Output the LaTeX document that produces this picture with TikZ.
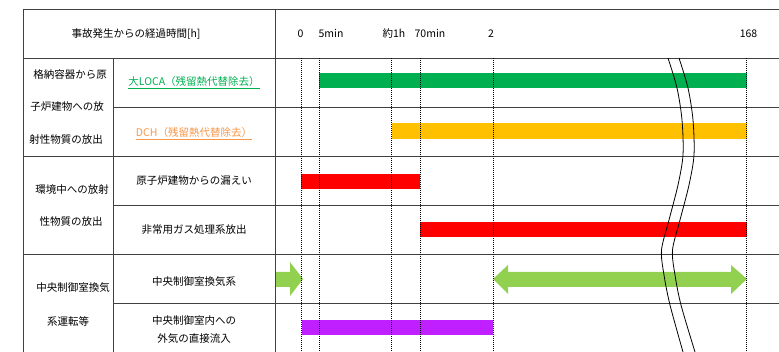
\documentclass[tikz,border=0pt]{standalone}
\usepackage{fontspec}
\setmainfont{Noto Sans CJK JP}
\definecolor{txtgreen}{HTML}{00B050}
\definecolor{txtorange}{HTML}{F79646}
\definecolor{bargreen}{HTML}{00B050}
\definecolor{barorange}{HTML}{FFC000}
\definecolor{barred}{HTML}{FF0000}
\definecolor{arrgreen}{HTML}{92D050}
\definecolor{barpurple}{HTML}{C020FF}
\begin{document}
\begin{tikzpicture}[x=1pt,y=-1pt,
  font=\fontsize{10.5}{12}\selectfont,
  tline/.style={draw=black!75, line width=0.8pt},
  dline/.style={draw=black, line width=0.6pt, dash pattern=on 1pt off 1pt},
  wline/.style={draw=black, line width=0.8pt},
  uline/.style={line width=0.5pt},
  lbl/.style={inner sep=0pt, anchor=center, text=black}]
\useasboundingbox (0,0) rectangle (779,352);

% bars
\fill[bargreen] (319,73) rectangle (747,88);
\fill[barorange] (392,123) rectangle (747,139);
\fill[barred] (301,174) rectangle (420,189);
\fill[barred] (420,222) rectangle (747,237);
\fill[barpurple] (302,320) rectangle (493,335.5);
% green arrows
\fill[arrgreen] (275,272) -- (290,272) -- (290,262) -- (303,279) -- (290,296) -- (290,287) -- (275,287) -- cycle;
\fill[arrgreen] (493,279) -- (508,265) -- (508,272) -- (731,272) -- (731,265) -- (747,279) -- (731,294) -- (731,287) -- (508,287) -- (508,294) -- cycle;

% table lines
\draw[tline] (23,9) -- (779,9);
\draw[tline] (23,58) -- (779,58);
\draw[tline] (113,107) -- (779,107);
\draw[tline] (23,156) -- (779,156);
\draw[tline] (113,205) -- (779,205);
\draw[tline] (23,254) -- (779,254);
\draw[tline] (113,303) -- (779,303);
\draw[tline] (23,9) -- (23,352);
\draw[tline] (113,58) -- (113,352);
\draw[tline] (275,9) -- (275,352);

% dotted time lines
\foreach \x in {301.5,319,391.7,420,493,746.7}
  \draw[dline] (\x,58) -- (\x,352);

% wave break lines
\draw[wline] plot[smooth] coordinates {(668,58) (677,88) (682,120) (683,155) (678,185) (669,220) (661.5,250) (664,275) (670,305) (683,352)};
\draw[wline] plot[smooth] coordinates {(679,58) (688,88) (693,120) (694,155) (689,185) (680,220) (672.5,250) (675,275) (681,305) (695,352)};

% header
\node[lbl] (hdr) at (136,34) {事故発生からの経過時間[h]};
\node[lbl] (t0) at (300.5,34) {0};
\node[lbl] (t5) at (331,34) {5min};
\node[lbl] (t1h) at (394,34) {約1h};
\node[lbl] (t70) at (430,34) {70min};
\node[lbl] (t2) at (491,34) {2};
\node[lbl] (t168) at (748.5,34) {168};

% group labels
\node[lbl] (g1a) at (70,75) {格納容器から原};
\node[lbl] (g1b) at (67,107) {子炉建物への放};
\node[lbl] (g1c) at (66,140) {射性物質の放出};
\node[lbl] (g2a) at (72,190) {環境中への放射};
\node[lbl] (g2b) at (71,222) {性物質の放出};
\node[lbl] (g3a) at (73,288) {中央制御室換気};
\node[lbl] (g3b) at (68,321) {系運転等};

% sub labels
\node[lbl, text=txtgreen] (s1) at (194,82) {大LOCA（残留熱代替除去）};
\draw[uline, txtgreen] ([yshift=-2pt]s1.base west) -- ([yshift=-2pt]s1.base east);
\node[lbl, text=txtorange] (s2) at (194,133) {DCH（残留熱代替除去）};
\draw[uline, txtorange] ([yshift=-2pt]s2.base west) -- ([yshift=-2pt]s2.base east);
\node[lbl] (s3) at (194,181) {原子炉建物からの漏えい};
\node[lbl] (s4) at (194,230) {非常用ガス処理系放出};
\node[lbl] (s5) at (194,282) {中央制御室換気系};
\node[lbl] (s6a) at (194,321) {中央制御室内への};
\node[lbl] (s6b) at (194,339) {外気の直接流入};
\end{tikzpicture}
\end{document}
